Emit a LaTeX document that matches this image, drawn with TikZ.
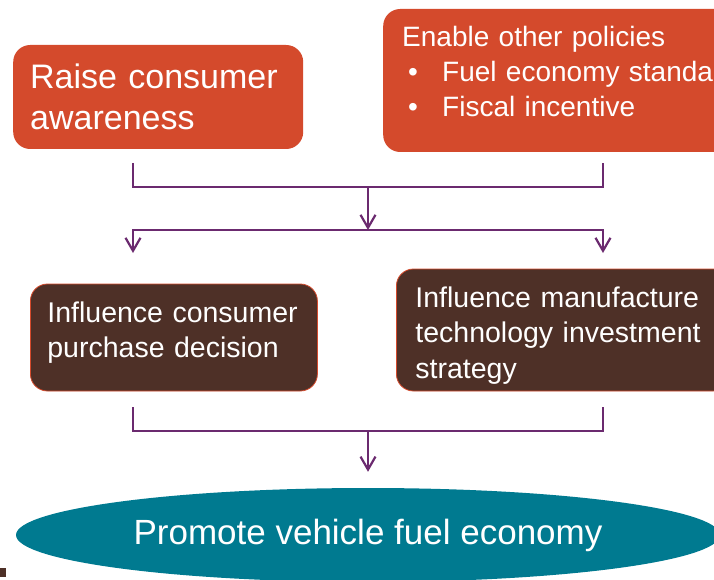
\documentclass[tikz,border=0pt]{standalone}
\usepackage{fontspec}
\setmainfont{Liberation Sans}
\usetikzlibrary{arrows.meta,shapes.geometric,positioning}

\definecolor{policyred}{HTML}{D44A2C}
\definecolor{effectbrown}{HTML}{4E3027}
\definecolor{goalteal}{HTML}{007A90}
\definecolor{linkpurple}{HTML}{6B2A6F}

\tikzset{
  redbox/.style={fill=policyred, text=white, rounded corners=17pt, align=left,
                 inner ysep=0pt, anchor=base west},
  brownbox/.style={fill=effectbrown, draw=policyred, line width=0.8pt, text=white,
                   rounded corners=17pt, align=left, inner ysep=0pt, anchor=base west,
                   font=\fontsize{28.5}{35.5}\selectfont},
  link/.style={draw=linkpurple, line width=2.2pt},
  arrow/.style={link, -{Straight Barb[length=13pt,width=15pt]}},
}

\begin{document}
\begin{tikzpicture}[x=1pt,y=-1pt]
  \useasboundingbox (0,0) rectangle (714,580);
  \clip (0,0) rectangle (714,580);

  \node[redbox, inner xsep=17pt, text width=256pt, text height=44pt, text depth=60pt,
        font=\fontsize{34}{41}\selectfont] (raise) at (13,89) {Raise consumer\\awareness};
  \node[redbox, inner xsep=19pt, text width=362pt, text height=38pt, text depth=105pt,
        font=\fontsize{28}{35}\selectfont] (enable) at (383,47)
    {Enable other policies\\
     \hspace*{6pt}\makebox[34pt][l]{\textbullet}Fuel economy standards\\
     \hspace*{6pt}\makebox[34pt][l]{\textbullet}Fiscal incentive};

  \node[brownbox, inner xsep=17pt, text width=253pt, text height=38pt, text depth=69pt]
    (consumer) at (30,322) {Influence consumer\\purchase decision};
  \node[brownbox, inner xsep=19pt, text width=296pt, text height=38pt, text depth=84pt]
    (maker) at (396,307) {Influence manufacture\\technology investment\\strategy};

  \node[ellipse, fill=goalteal, text=white, minimum width=704pt, minimum height=94pt,
        inner sep=0pt, font=\fontsize{35}{42}\selectfont] (goal) at (368,535)
    {Promote vehicle fuel economy};

  \coordinate (lever l) at (133,163);
  \coordinate (lever r) at (603,163);
  \coordinate (merge top) at (368,187);
  \coordinate (split) at (368,230);
  \coordinate (drop l) at (133,253);
  \coordinate (drop r) at (603,253);
  \coordinate (effect l) at (133,407);
  \coordinate (effect r) at (603,407);
  \coordinate (merge bottom) at (368,431);

  \draw[link] (lever l) |- (merge top) -| (lever r);
  \draw[arrow] (merge top) -- (split);
  \draw[arrow] (split) -| (drop l);
  \draw[arrow] (split) -| (drop r);
  \draw[link] (effect l) |- (merge bottom) -| (effect r);
  \draw[arrow, shorten >=16pt] (merge bottom) -- (goal);

  \fill[effectbrown] (0,568) rectangle (6,577);
\end{tikzpicture}
\end{document}
